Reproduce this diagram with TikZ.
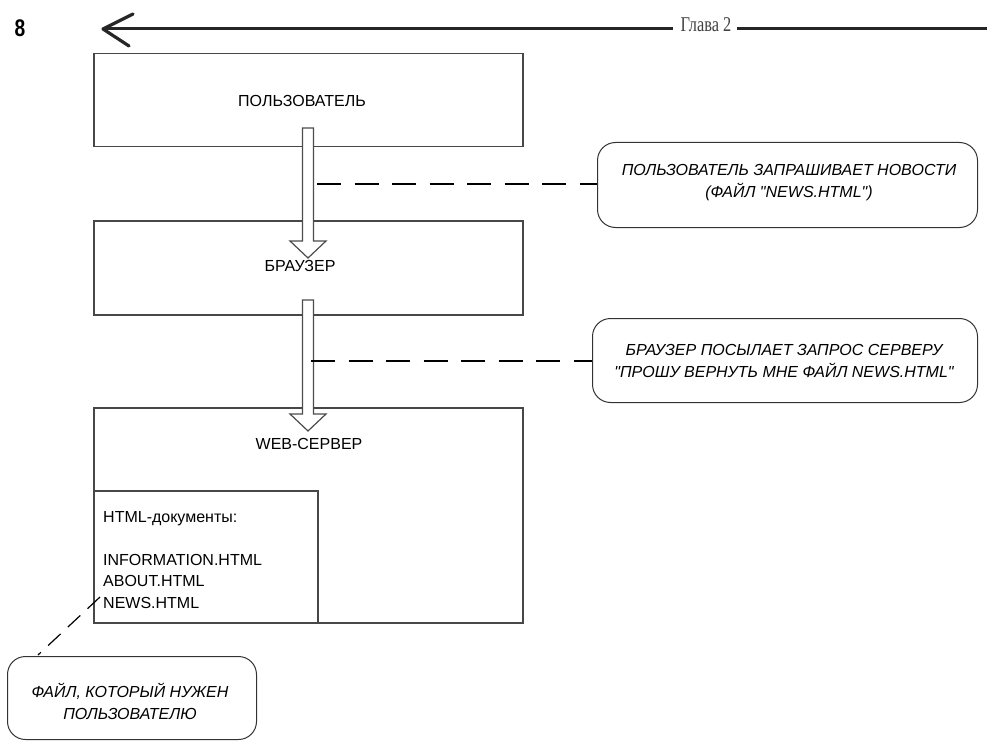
\documentclass[tikz,border=0pt]{standalone}
\usepackage{fontspec}
\setmainfont{Liberation Sans}[Ligatures=TeXOff]
\newfontfamily\headfont{Liberation Serif}
\usetikzlibrary{calc}
\begin{document}
\begin{tikzpicture}[x=1pt,y=-1pt,
  box/.style={draw=black!72, line width=1.5pt, inner sep=0pt, anchor=north west, fill=none},
  callout/.style={draw=black!80, line width=1pt, rounded corners=18pt, inner sep=0pt, anchor=north west},
  calltext/.style={font=\fontsize{16}{22}\selectfont\itshape, align=center, inner sep=0pt},
  boxtext/.style={font=\fontsize{16}{21.5}\selectfont, inner sep=0pt},
  dashline/.style={line width=1.8pt, dash pattern=on 24pt off 13.5pt},
  hollow/.style={draw=black!70, line width=1.2pt, fill=white, line join=miter},
  rule/.style={line width=3pt, black!85}
]
\useasboundingbox (0,0) rectangle (994,741);

% header
\node[font=\fontsize{24}{24}\selectfont\bfseries, xscale=0.8, inner sep=0pt] (pagenum) at (20,28) {8};
\node[font=\headfont\fontsize{21}{21}\selectfont, xscale=0.78, text=black!75, inner sep=0pt] (chap) at (706,25) {Глава 2};
\coordinate (tip) at (103,29);
\coordinate (lend) at (673,29);
\coordinate (rstart) at (737,29);
\coordinate (rend) at (987,29);
\draw[rule] (tip) -- (lend);
\draw[rule] (rstart) -- (rend);
\draw[line width=3.2pt, line cap=round, line join=round, black!85] (133,14) -- (tip) -- (129,46);

% boxes
\node[box, minimum width=429pt, minimum height=93pt] (user) at (93,53) {};
\node[boxtext] (userlbl) at (302,101) {ПОЛЬЗОВАТЕЛЬ};
\node[box, minimum width=429pt, minimum height=94pt] (browser) at (93,220) {};
\node[boxtext] (browserlbl) at (300,266) {БРАУЗЕР};
\node[box, minimum width=429pt, minimum height=215pt] (server) at (93,407) {};
\node[boxtext] (serverlbl) at (309,444) {WEB-СЕРВЕР};
\node[box, minimum width=224pt, minimum height=132pt] (docs) at (93,490) {};
\node[boxtext, anchor=north west, align=left] (docslbl) at (103,511) {HTML-документы:\\[21.5pt]INFORMATION.HTML\\ABOUT.HTML\\NEWS.HTML};

% hollow arrows
\coordinate (a1s) at (308,128);
\coordinate (a1e) at (308,258);
\coordinate (a2s) at (308,300);
\coordinate (a2e) at (308,431);
\foreach \s/\e in {a1s/a1e, a2s/a2e}{
  \draw[hollow] ($(\s)+(-5.5,0)$) -- ($(\e)+(-5.5,-17)$) -- ($(\e)+(-18,-17)$) -- (\e) -- ($(\e)+(18,-17)$) -- ($(\e)+(5.5,-17)$) -- ($(\s)+(5.5,0)$) -- cycle;
}

% callouts
\node[callout, minimum width=380pt, minimum height=85pt] (c1) at (597,142) {};
\node[calltext] (c1t) at (789,183) {ПОЛЬЗОВАТЕЛЬ ЗАПРАШИВАЕТ НОВОСТИ\\(ФАЙЛ "NEWS.HTML")};
\node[callout, minimum width=385pt, minimum height=84pt] (c2) at (592,318) {};
\node[calltext] (c2t) at (784,361) {БРАУЗЕР ПОСЫЛАЕТ ЗАПРОС СЕРВЕРУ\\"ПРОШУ ВЕРНУТЬ МНЕ ФАЙЛ NEWS.HTML"};
\node[callout, minimum width=249pt, minimum height=83pt] (c3) at (7,656) {};
\node[calltext] (c3t) at (130,701) {ФАЙЛ, КОТОРЫЙ НУЖЕН\\ПОЛЬЗОВАТЕЛЮ};

% dashed connectors
\coordinate (d1s) at (317,184);
\coordinate (d2s) at (311,361);
\coordinate (d3s) at (100,597);
\coordinate (d3e) at (38,655);
\draw[dashline] (d1s) -- (c1.west |- d1s);
\draw[dashline] (d2s) -- (c2.west |- d2s);
\draw[line width=1.2pt, dash pattern=on 17pt off 10pt] (d3s) -- (d3e);
\end{tikzpicture}
\end{document}
